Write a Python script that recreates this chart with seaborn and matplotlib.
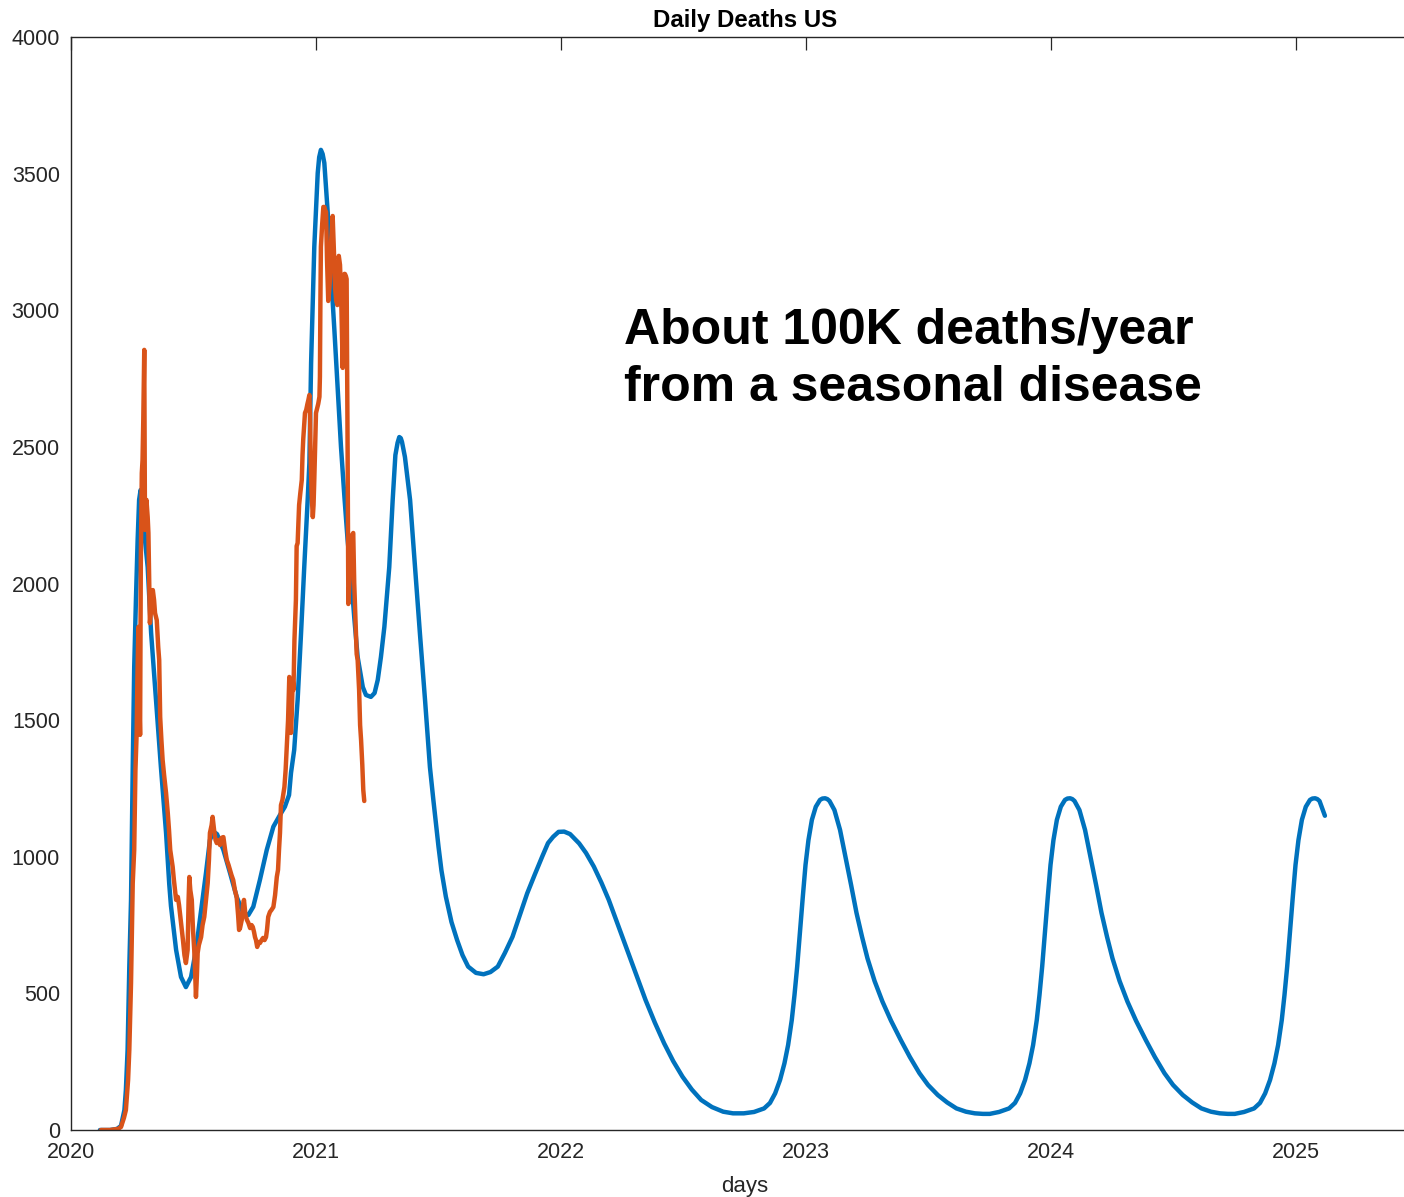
import matplotlib
matplotlib.use("Agg")
import matplotlib.pyplot as plt
import seaborn as sns
import pandas as pd

# ---------------- data ----------------
model_year = [
    2020.118, 2020.159, 2020.188, 2020.204, 2020.218, 2020.224, 2020.231, 2020.238, 2020.245, 2020.252,
    2020.258, 2020.265, 2020.272, 2020.278, 2020.284, 2020.290, 2020.298, 2020.302, 2020.313, 2020.327,
    2020.347, 2020.367, 2020.388, 2020.401, 2020.408, 2020.429, 2020.449, 2020.469, 2020.490, 2020.510,
    2020.531, 2020.551, 2020.567, 2020.581, 2020.596, 2020.622, 2020.649, 2020.676, 2020.703, 2020.724,
    2020.744, 2020.771, 2020.799, 2020.826, 2020.853, 2020.873, 2020.890, 2020.898, 2020.911, 2020.925,
    2020.939, 2020.952, 2020.966, 2020.973, 2020.980, 2020.993, 2021.007, 2021.013, 2021.020, 2021.027,
    2021.034, 2021.048,
    2021.061, 2021.075, 2021.089, 2021.102, 2021.116, 2021.129, 2021.143, 2021.156, 2021.170, 2021.191,
    2021.204, 2021.224, 2021.239, 2021.252, 2021.265, 2021.279, 2021.299, 2021.313, 2021.324, 2021.333,
    2021.340, 2021.346,
    2021.351, 2021.363, 2021.384, 2021.404, 2021.424, 2021.445, 2021.465, 2021.479, 2021.500, 2021.512,
    2021.530, 2021.553, 2021.576, 2021.598, 2021.621, 2021.653, 2021.684, 2021.712, 2021.742, 2021.771,
    2021.802, 2021.832, 2021.862, 2021.893, 2021.923,
    2021.947, 2021.968, 2021.990, 2022.013, 2022.037, 2022.074, 2022.102, 2022.134, 2022.165, 2022.195,
    2022.232, 2022.270, 2022.308, 2022.345, 2022.383, 2022.421, 2022.458, 2022.496, 2022.534, 2022.572,
    2022.616, 2022.662, 2022.702, 2022.746, 2022.788, 2022.829,
    2022.853, 2022.874, 2022.894, 2022.912, 2022.927, 2022.942, 2022.953, 2022.964, 2022.976, 2022.987,
    2022.998, 2023.010, 2023.024, 2023.040, 2023.057, 2023.067, 2023.078, 2023.087, 2023.096, 2023.116,
    2023.139, 2023.161,
    2023.184, 2023.206, 2023.229, 2023.251, 2023.280, 2023.312, 2023.347, 2023.387, 2023.424, 2023.463,
    2023.498, 2023.538, 2023.576, 2023.614, 2023.653, 2023.689, 2023.722, 2023.750, 2023.788, 2023.829,
    2023.853, 2023.874, 2023.894, 2023.912, 2023.927, 2023.942, 2023.953, 2023.964, 2023.976, 2023.987,
    2023.998, 2024.010, 2024.024, 2024.040, 2024.057, 2024.067, 2024.078, 2024.087, 2024.096, 2024.116,
    2024.139, 2024.161,
    2024.184, 2024.206, 2024.229, 2024.251, 2024.280, 2024.312, 2024.347, 2024.387, 2024.424, 2024.463,
    2024.498, 2024.538, 2024.576, 2024.614, 2024.653, 2024.689, 2024.722, 2024.750, 2024.788, 2024.829,
    2024.853, 2024.874, 2024.894, 2024.912, 2024.927, 2024.942, 2024.953, 2024.964, 2024.976, 2024.987,
    2024.998, 2025.010, 2025.024, 2025.040, 2025.057, 2025.067, 2025.078, 2025.087, 2025.096, 2025.118,
]
model_deaths = [
    0, 0, 4, 15, 73, 146, 293, 597, 842, 1328,
    1694, 1940, 2159, 2306, 2342, 2324, 2232, 2159, 2060, 1819,
    1574, 1328, 1087, 900, 820, 659, 560, 523, 560, 659,
    805, 941, 1061, 1092, 1083, 1025, 941, 854, 794, 787,
    817, 915, 1025, 1110, 1153, 1183, 1226, 1307, 1391, 1574,
    1819, 2060, 2306, 2441, 2807, 3232, 3502, 3560, 3587, 3572,
    3539, 3356,
    3136, 2928, 2708, 2500, 2317, 2159, 2031, 1877, 1731, 1621,
    1592, 1585, 1599, 1647, 1731, 1841, 2060, 2306, 2470, 2515,
    2536, 2532,
    2518, 2463, 2306, 2060, 1819, 1574, 1328, 1208, 1037, 950,
    854, 761, 695, 640, 598, 575, 570, 578, 598, 648,
    707, 786, 866, 935, 1000,
    1050, 1073, 1091, 1092, 1083, 1049, 1014, 964, 905, 842,
    752, 659, 567, 476, 393, 317, 252, 195, 148, 110,
    84, 67, 61, 61, 66, 79,
    99, 134, 183, 244, 311, 403, 494, 598, 732, 854,
    970, 1061, 1135, 1183, 1208, 1213, 1214, 1211, 1204, 1171,
    1098, 1000,
    897, 795, 706, 628, 545, 470, 400, 329, 267, 208,
    165, 128, 101, 79, 67, 61, 59, 59, 66, 79,
    99, 134, 183, 244, 311, 403, 494, 598, 732, 854,
    970, 1061, 1135, 1183, 1208, 1213, 1214, 1211, 1204, 1171,
    1098, 1000,
    897, 795, 706, 628, 545, 470, 400, 329, 267, 208,
    165, 128, 101, 79, 67, 61, 59, 59, 66, 79,
    99, 134, 183, 244, 311, 403, 494, 598, 732, 854,
    970, 1061, 1135, 1183, 1208, 1213, 1214, 1211, 1204, 1150,
]

actual_year = [
    2020.122, 2020.159, 2020.192, 2020.204, 2020.216, 2020.224, 2020.233, 2020.238, 2020.245, 2020.252,
    2020.258, 2020.263, 2020.268, 2020.271, 2020.275, 2020.279, 2020.282, 2020.285, 2020.289, 2020.292,
    2020.295, 2020.299, 2020.302, 2020.308, 2020.313, 2020.316, 2020.320, 2020.322, 2020.327, 2020.334,
    2020.339, 2020.343, 2020.350, 2020.356, 2020.360, 2020.364, 2020.369, 2020.374, 2020.380, 2020.388,
    2020.395, 2020.400, 2020.405, 2020.415, 2020.420, 2020.429, 2020.436, 2020.441, 2020.449, 2020.457,
    2020.463, 2020.469, 2020.476, 2020.480, 2020.483, 2020.487, 2020.493, 2020.498, 2020.503, 2020.507,
    2020.510, 2020.514, 2020.517, 2020.522, 2020.531, 2020.537, 2020.544, 2020.551, 2020.558, 2020.563,
    2020.567, 2020.574, 2020.578, 2020.584, 2020.590, 2020.595, 2020.602, 2020.608, 2020.614, 2020.622,
    2020.629, 2020.636, 2020.643, 2020.649, 2020.655, 2020.662, 2020.669, 2020.676, 2020.682, 2020.686,
    2020.690, 2020.697, 2020.702, 2020.706, 2020.712, 2020.718, 2020.724, 2020.731, 2020.737, 2020.742,
    2020.747, 2020.751, 2020.755, 2020.760, 2020.765, 2020.771, 2020.778, 2020.784, 2020.790, 2020.796,
    2020.800, 2020.805, 2020.812, 2020.818, 2020.826, 2020.833, 2020.840, 2020.845, 2020.849, 2020.853,
    2020.857, 2020.863, 2020.871, 2020.876, 2020.882, 2020.886, 2020.891, 2020.894, 2020.898, 2020.901,
    2020.905, 2020.908, 2020.912, 2020.918, 2020.921, 2020.925, 2020.928, 2020.931, 2020.936, 2020.942,
    2020.945, 2020.948, 2020.952, 2020.955, 2020.960, 2020.965, 2020.969, 2020.973, 2020.976, 2020.978,
    2020.982, 2020.987, 2020.990, 2020.993, 2020.997, 2021.000, 2021.005, 2021.009, 2021.014, 2021.016,
    2021.018, 2021.020, 2021.025, 2021.030, 2021.034, 2021.037, 2021.041, 2021.045, 2021.050, 2021.054,
    2021.057, 2021.062, 2021.068, 2021.073, 2021.078, 2021.082, 2021.087, 2021.093, 2021.098, 2021.103,
    2021.109, 2021.112, 2021.116, 2021.118, 2021.122, 2021.125, 2021.129, 2021.132, 2021.137, 2021.142,
    2021.147, 2021.152, 2021.156, 2021.161, 2021.166, 2021.170, 2021.176, 2021.180, 2021.184, 2021.189,
    2021.193, 2021.197,
]
actual_deaths = [
    0, 0, 4, 11, 44, 73, 183, 293, 538, 904,
    1025, 1317, 1453, 1647, 1841, 1574, 1446, 2086, 2404, 2452,
    2598, 2855, 2196, 2306, 2243, 2185, 1976, 1855, 1903, 1976,
    1940, 1892, 1866, 1768, 1720, 1511, 1427, 1354, 1299, 1233,
    1160, 1098, 1025, 963, 915, 842, 853, 823, 758, 695,
    640, 611, 659, 842, 926, 878, 842, 732, 659, 567,
    487, 567, 648, 677, 706, 750, 780, 842, 904, 988,
    1087, 1116, 1146, 1098, 1061, 1050, 1061, 1043, 1069, 1072,
    1025, 988, 970, 952, 933, 915, 878, 853, 787, 732,
    739, 769, 823, 842, 787, 769, 758, 739, 750, 743,
    725, 706, 695, 670, 688, 684, 695, 703, 695, 706,
    732, 780, 798, 805, 816, 860, 926, 952, 1025, 1087,
    1189, 1208, 1255, 1317, 1427, 1500, 1658, 1574, 1453, 1519,
    1647, 1610, 1793, 1940, 2137, 2148, 2218, 2287, 2331, 2379,
    2470, 2529, 2580, 2624, 2635, 2657, 2672, 2690, 2598, 2470,
    2331, 2243, 2287, 2379, 2525, 2624, 2642, 2657, 2683, 2756,
    3038, 3232, 3312, 3378, 3378, 3367, 3360, 3184, 3034, 3074,
    3114, 3257, 3345, 3220, 3081, 3038, 3019, 3199, 3166, 3038,
    2789, 2964, 3133, 3133, 3125, 3114, 2489, 1925, 2013, 2167,
    2177, 2185, 2002, 1866, 1742, 1720, 1610, 1482, 1427, 1336,
    1244, 1204,
]

year_ticks = [2020, 2021, 2022, 2023, 2024, 2025]
death_ticks = [0, 500, 1000, 1500, 2000, 2500, 3000, 3500, 4000]
title_text = "Daily Deaths US"
xlabel_text = "days"
note_text = "About 100K deaths/year\nfrom a seasonal disease"

# ---------------- style ----------------
sns.set_theme(style="white")
plt.rcParams["font.family"] = ["Liberation Sans", "DejaVu Sans"]

BLUE = "#0072BD"
ORANGE = "#D95319"
AXC = "#262626"

W, H = 1404, 1197
fig = plt.figure(figsize=(W / 100, H / 100), dpi=100)
ax = fig.add_axes([71 / W, 67 / H, 1347.5 / W, 1093 / H])

model_df = pd.DataFrame({"year": model_year, "deaths": model_deaths})
actual_df = pd.DataFrame({"year": actual_year, "deaths": actual_deaths})

sns.lineplot(data=model_df, x="year", y="deaths", ax=ax, color=BLUE,
             linewidth=3.2, sort=False, estimator=None)
sns.lineplot(data=actual_df, x="year", y="deaths", ax=ax, color=ORANGE,
             linewidth=3.2, sort=False, estimator=None)

ax.set_xlim(2020, 2025.5)
ax.set_ylim(0, 4000)
ax.set_xticks(year_ticks)
ax.set_xticklabels([str(t) for t in year_ticks])
ax.set_yticks(death_ticks)
ax.set_yticklabels([str(t) for t in death_ticks])

for s in ax.spines.values():
    s.set_visible(True)
    s.set_color(AXC)
    s.set_linewidth(1.0)

ax.tick_params(axis="both", direction="in", length=9.4, width=0.9,
               colors=AXC, labelsize=15.5, top=True, right=True)
ax.tick_params(axis="y", pad=8)
ax.tick_params(axis="x", pad=9)

ax.set_xlabel(xlabel_text, fontsize=16, color=AXC, labelpad=9)
ax.set_ylabel("")
ax.set_title(title_text, fontsize=17.3, fontweight="bold", color="black", pad=7)

ax.text(2022.257, 3008, note_text, fontsize=36, fontweight="bold",
        color="black", ha="left", va="top", linespacing=1.3)

fig.savefig("out.png", dpi=100)
